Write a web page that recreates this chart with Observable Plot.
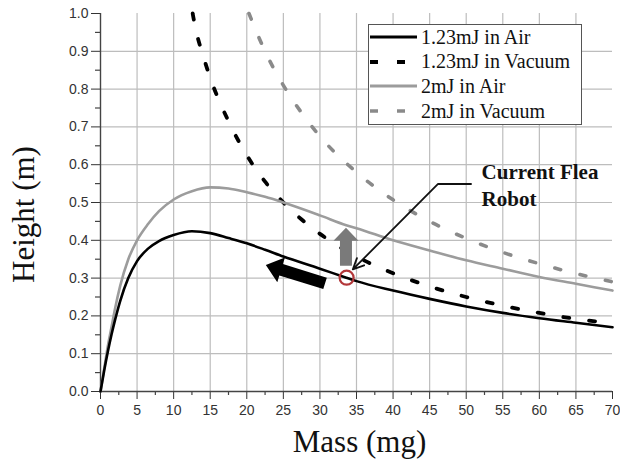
<!DOCTYPE html>
<html><head><meta charset="utf-8">
<script src="https://cdn.jsdelivr.net/npm/d3@7"></script>
<script src="https://cdn.jsdelivr.net/npm/@observablehq/plot@0.6"></script>
<style>
body{margin:0;background:#fff;}
#wrap{position:relative;width:620px;height:466px;overflow:hidden;background:#fff;}
#legend{position:absolute;left:368px;top:24px;width:214px;height:101px;border:1px solid #555;background:#fff;
  font-family:"Liberation Serif","Times New Roman",serif;font-size:20px;color:#111;box-sizing:border-box;padding-top:0px;}
.row{display:flex;align-items:center;height:24.6px;white-space:nowrap;}
.row svg{margin-left:1px;margin-right:4px;flex:none;}
</style></head><body><div id="wrap"></div>
<script>
// ---- data ----
const massAir = [0, 0.5, 1, 1.5, 2, 2.7, 3.8, 5, 6.5, 8, 10, 12.5, 15, 17.5, 20, 22.5, 25, 30, 33.6, 35, 40, 45, 50, 55, 60, 65, 70];
const h123Air = [0, 0.055, 0.105, 0.15, 0.19, 0.24, 0.30, 0.345, 0.378, 0.398, 0.414, 0.424, 0.419, 0.406, 0.392, 0.375, 0.357, 0.325, 0.301, 0.292, 0.267, 0.245, 0.225, 0.208, 0.194, 0.182, 0.17];
const h2Air   = [0, 0.06, 0.12, 0.17, 0.22, 0.28, 0.35, 0.40, 0.443, 0.477, 0.508, 0.53, 0.54, 0.537, 0.527, 0.515, 0.50, 0.466, 0.44, 0.432, 0.40, 0.373, 0.347, 0.325, 0.303, 0.285, 0.267];
const massVac123 = [12.6, 13, 14, 15, 17.5, 20, 22.5, 25, 27.5, 30, 35, 40, 45, 50, 55, 60, 65, 70];
const h123Vac    = [1.0, 0.96, 0.89, 0.83, 0.715, 0.625, 0.555, 0.50, 0.455, 0.417, 0.357, 0.313, 0.278, 0.25, 0.227, 0.208, 0.192, 0.181];
const massVac2 = [20.3, 22.5, 25, 27.5, 30, 35, 40, 45, 50, 55, 60, 65, 70];
const h2Vac    = [1.0, 0.90, 0.81, 0.737, 0.675, 0.58, 0.507, 0.45, 0.405, 0.368, 0.338, 0.312, 0.29];

const seriesNames = ["1.23mJ in Air", "1.23mJ in Vacuum", "2mJ in Air", "2mJ in Vacuum"];
const xTicks = [0,5,10,15,20,25,30,35,40,45,50,55,60,65,70];
const xMinor = [2.5,7.5,12.5,17.5,22.5,27.5,32.5,37.5,42.5,47.5,52.5,57.5,62.5,67.5];
const xGrid = [5,10,15,20,25,30,35,40,45,50,55,60,65];
const yTicks = [0,0.1,0.2,0.3,0.4,0.5,0.6,0.7,0.8,0.9,1.0];
const yMinor = [0.05,0.15,0.25,0.35,0.45,0.55,0.65,0.75,0.85,0.95];
const yGrid = [0.1,0.2,0.3,0.4,0.5,0.6,0.7,0.8,0.9];

// annotations (data coordinates)
const robotPoint = [{mass: 33.65, height: 0.301}];
const leaderFlat = [{x1: 50.75, y1: 0.549, x2: 46.15, y2: 0.549}];
const leaderArrow = [{x1: 46.15, y1: 0.549, x2: 34.5, y2: 0.323}];
const annoLabels = [{mass: 52.1, height: 0.563, text: "Current Flea"}, {mass: 52.1, height: 0.492, text: "Robot"}];
const upArrowBase = [{mass: 33.56, height: 0.333}];
const leftArrowTail = [{mass: 30.7, height: 0.286}];

// ---- tidy tables ----
const table = [
  ...massAir.map((m, i) => ({mass: m, height: h123Air[i], s: seriesNames[0]})),
  ...massVac123.map((m, i) => ({mass: m, height: h123Vac[i], s: seriesNames[1]})),
  ...massAir.map((m, i) => ({mass: m, height: h2Air[i], s: seriesNames[2]})),
  ...massVac2.map((m, i) => ({mass: m, height: h2Vac[i], s: seriesNames[3]}))
];
const bySeries = name => table.filter(d => d.s === name);

// block-arrow symbols
const upArrowSymbol = {draw(ctx) {
  ctx.moveTo(-6, 0); ctx.lineTo(-6, -25); ctx.lineTo(-12.5, -25); ctx.lineTo(0, -38);
  ctx.lineTo(12.5, -25); ctx.lineTo(6, -25); ctx.lineTo(6, 0); ctx.closePath();
}};
const leftArrowSymbol = {draw(ctx) {
  const L = 62, hl = 16, hw = 13, w = 6;
  const dx = -0.955, dy = -0.295, px = -dy, py = dx;
  const pts = [[0,-w],[L-hl,-w],[L-hl,-hw],[L,0],[L-hl,hw],[L-hl,w],[0,w]];
  pts.forEach(([u,v], i) => {
    const X = u*dx + v*px, Y = u*dy + v*py;
    if (i === 0) ctx.moveTo(X, Y); else ctx.lineTo(X, Y);
  });
  ctx.closePath();
}};

const serif = "'Liberation Serif','Times New Roman',serif";

const chart = Plot.plot({
  width: 620, height: 466,
  marginLeft: 100, marginRight: 8, marginTop: 13, marginBottom: 75,
  style: {fontFamily: "'Liberation Sans', Arial, sans-serif", fontSize: "14px", color: "#333", background: "#fff", overflow: "visible"},
  x: {domain: [0, 70], ticks: xTicks, tickSize: 8, tickPadding: 6, tickFormat: d => String(d), label: null},
  y: {domain: [0, 1], ticks: yTicks, tickSize: 9, tickPadding: 3, tickFormat: d3.format(".1f"), label: null},
  marks: [
    Plot.ruleX(xGrid, {x: d => d, stroke: "#bdbdbd", strokeWidth: 1.2}),
    Plot.ruleY(yGrid, {y: d => d, stroke: "#bdbdbd", strokeWidth: 1.2}),
    Plot.ruleX(xMinor, {x: d => d, y1: 0, y2: 0, insetBottom: -4, stroke: "#444", strokeWidth: 1.2}),
    Plot.ruleY(yMinor, {y: d => d, x1: 0, x2: 0, insetLeft: -5, stroke: "#444", strokeWidth: 1.2}),
    Plot.ruleX([0], {stroke: "#444", strokeWidth: 1.4}),
    Plot.ruleY([0], {stroke: "#444", strokeWidth: 1.4}),
    Plot.line(bySeries(seriesNames[3]), {x: "mass", y: "height", curve: "monotone-x", stroke: "#8a8a8a", strokeWidth: 3.6, strokeDasharray: "6,20", strokeLinecap: "round"}),
    Plot.line(bySeries(seriesNames[1]), {x: "mass", y: "height", curve: "monotone-x", stroke: "#000", strokeWidth: 3.8, strokeDasharray: "6,20", strokeLinecap: "round"}),
    Plot.line(bySeries(seriesNames[2]), {x: "mass", y: "height", curve: "monotone-x", stroke: "#9c9c9c", strokeWidth: 2.6}),
    Plot.line(bySeries(seriesNames[0]), {x: "mass", y: "height", curve: "monotone-x", stroke: "#000", strokeWidth: 2.6}),
    Plot.dot(upArrowBase, {x: "mass", y: "height", symbol: upArrowSymbol, fill: "#7a7a7a", stroke: "none"}),
    Plot.dot(leftArrowTail, {x: "mass", y: "height", symbol: leftArrowSymbol, fill: "#000", stroke: "none"}),
    Plot.dot(robotPoint, {x: "mass", y: "height", r: 7, stroke: "#b3373a", strokeWidth: 2.2, fill: "none"}),
    Plot.link(leaderFlat, {x1: "x1", y1: "y1", x2: "x2", y2: "y2", stroke: "#111", strokeWidth: 1.8}),
    Plot.arrow(leaderArrow, {x1: "x1", y1: "y1", x2: "x2", y2: "y2", stroke: "#111", strokeWidth: 1.8, headLength: 10, headAngle: 50}),
    Plot.text(annoLabels, {x: "mass", y: "height", text: "text", textAnchor: "start", lineAnchor: "bottom", fontFamily: serif, fontWeight: "bold", fontSize: 21, fill: "#111"}),
    Plot.text(["Mass (mg)"], {text: d => d, frameAnchor: "bottom", lineAnchor: "bottom", dx: 3, dy: 60, fontFamily: serif, fontSize: 31, fill: "#111"}),
    Plot.text(["Height (m)"], {text: d => d, frameAnchor: "left", rotate: -90, lineAnchor: "bottom", textAnchor: "middle", dx: -67, dy: 12, fontFamily: serif, fontSize: 31, fill: "#111"})
  ]
});

const wrap = document.getElementById("wrap");
wrap.appendChild(chart);

// legend
const legendStyles = [
  {stroke: "#000", width: 2.8, dash: null},
  {stroke: "#000", width: 4, dash: "8,19"},
  {stroke: "#9c9c9c", width: 2.8, dash: null},
  {stroke: "#8a8a8a", width: 3.6, dash: "8,19"}
];
const legend = document.createElement("div");
legend.id = "legend";
seriesNames.forEach((name, i) => {
  const st = legendStyles[i];
  const row = document.createElement("div");
  row.className = "row";
  row.innerHTML = `<svg width="47" height="10"><line x1="0" y1="5" x2="47" y2="5" stroke="${st.stroke}" stroke-width="${st.width}" ${st.dash ? `stroke-dasharray="${st.dash}"` : ""}/></svg><span>${name}</span>`;
  legend.appendChild(row);
});
wrap.appendChild(legend);
</script>
</body></html>
